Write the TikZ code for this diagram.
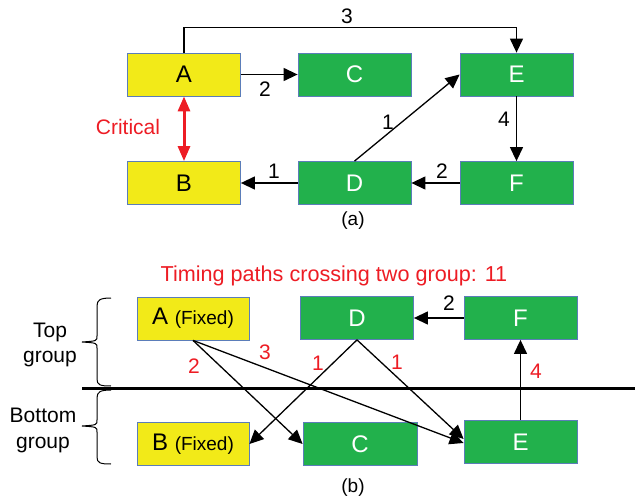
\documentclass[tikz,border=0pt]{standalone}
\usepackage{fontspec}
\setmainfont{Liberation Sans}
\usetikzlibrary{arrows.meta}
\definecolor{blockyellow}{RGB}{242,234,24}
\definecolor{blockgreen}{RGB}{34,177,76}
\definecolor{blockedge}{RGB}{91,125,185}
\definecolor{alertred}{RGB}{237,28,36}

\begin{document}
\begin{tikzpicture}[x=1pt,y=-1pt,
  blk/.style={draw=blockedge, line width=0.8pt, minimum width=113pt,
    minimum height=43pt, inner sep=0pt, font=\fontsize{24}{24}\selectfont},
  fixedblk/.style={blk, fill=blockyellow, text=black},
  gblk/.style={blk, fill=blockgreen, text=white},
  wire/.style={line width=1.3pt, -{Triangle[length=14pt,width=13pt]}},
  critwire/.style={alertred, line width=3pt,
    {Triangle[length=15pt,width=12pt]}-{Triangle[length=15pt,width=12pt]}},
  lbl/.style={font=\fontsize{21}{21}\selectfont, inner sep=0pt},
  rlbl/.style={lbl, text=alertred},
  capt/.style={font=\fontsize{19}{19}\selectfont, inner sep=0pt},
  brace/.style={line width=1pt},
]
\useasboundingbox (0,0) rectangle (635,500);

% ---------- (a) original netlist ----------
\node[fixedblk] (a1) at (184,74.5) {A};
\node[gblk]     (c1) at (354.5,74.5) {C};
\node[gblk]     (e1) at (516.5,74.5) {E};
\node[fixedblk] (b1) at (184,183) {B};
\node[gblk]     (d1) at (354.5,183) {D};
\node[gblk]     (f1) at (516.5,183) {F};

\draw[wire] (a1.north) -- ++(0,-25) -| (e1.north);
\draw[wire] (a1.east) -- (c1.west);
\draw[wire] (d1.west) -- (b1.east);
\draw[wire] (d1.north) -- (e1.west);
\draw[wire] (e1.south) -- (f1.north);
\draw[wire] (f1.west) -- (d1.east);
\draw[critwire] (a1.south) -- (b1.north);

\node[lbl]  (w3a)  at (347,16)  {3};
\node[lbl]  (w2a)  at (265,89)  {2};
\node[rlbl] (crit) at (128,127) {Critical};
\node[lbl]  (w1a)  at (274,171) {1};
\node[lbl]  (w1b)  at (388,122) {1};
\node[lbl]  (w4a)  at (504,119) {4};
\node[lbl]  (w2b)  at (442,171) {2};
\node[capt] (capa) at (353,221) {(a)};

% ---------- (b) partitioned into two groups ----------
\node[rlbl, font=\fontsize{21.6}{21.6}\selectfont] (title) at (334,276)
  {Timing paths crossing two group: 11};

\node[fixedblk, minimum width=112pt] (a2) at (193,318.5)
  {A {\fontsize{19}{19}\selectfont(Fixed)}};
\node[fixedblk, minimum width=112pt] (b2) at (193,444)
  {B {\fontsize{19}{19}\selectfont(Fixed)}};
\node[gblk] (d2) at (357,318) {D};
\node[gblk] (f2) at (520.5,318) {F};
\node[gblk, minimum width=114pt] (c2) at (360,444) {C};
\node[gblk] (e2) at (520.5,442) {E};

\draw[wire] (a2.south) -- (c2.west);
\draw[wire] (a2.south) -- ([yshift=-1pt]e2.west);
\draw[wire] (d2.south) -- (b2.east);
\draw[wire] (d2.south) -- ([yshift=3pt]e2.west);
\draw[wire] (e2.north) -- (f2.south);
\draw[wire] (f2.west) -- (d2.east);

\node[lbl]  (x2)  at (449,303) {2};
\node[rlbl] (r2)  at (194,366) {2};
\node[rlbl] (r3)  at (265,352) {3};
\node[rlbl] (r1a) at (318,363) {1};
\node[rlbl] (r1b) at (397,362) {1};
\node[rlbl] (r4)  at (536,371) {4};

% group divider
\coordinate (cutl) at (82,388);
\coordinate (cutr) at (635,388);
\draw[line width=3pt] (cutl) -- (cutr);

% group braces
\draw[brace] (111,298) .. controls (100,298) and (97,300) .. (97,306)
  -- (97,336) .. controls (97,341) .. (82,342)
  .. controls (97,343) .. (97,348) -- (97,379)
  .. controls (97,385) and (100,386) .. (111,386);
\draw[brace] (111,390) .. controls (100,390) and (97,392) .. (97,398)
  -- (97,420) .. controls (97,425) .. (82,426)
  .. controls (97,427) .. (97,432) -- (97,457)
  .. controls (97,463) and (100,464) .. (111,464);

\node[lbl, align=center, font=\fontsize{21}{25}\selectfont] (topg) at (50,345) {Top\\group};
\node[lbl, align=center, font=\fontsize{21}{26}\selectfont] (botg) at (43,430) {Bottom\\group};

\node[capt] (capb) at (353,488) {(b)};
\end{tikzpicture}
\end{document}
